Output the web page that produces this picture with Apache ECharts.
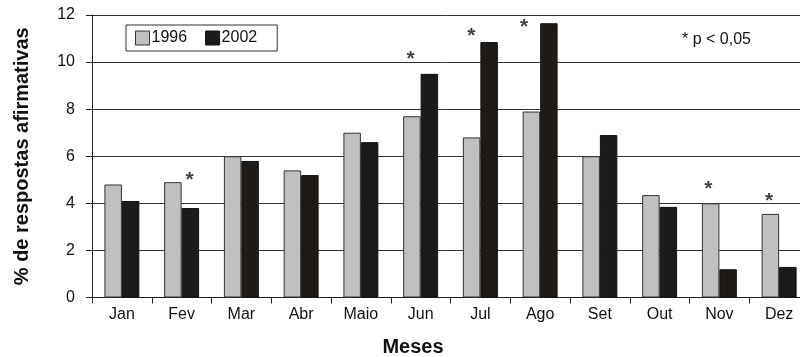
<!DOCTYPE html>
<html><head><meta charset="utf-8">
<script src="https://cdn.jsdelivr.net/npm/echarts@6/dist/echarts.min.js"></script>
<style>html,body{margin:0;padding:0;background:#fff}#c{width:800px;height:357px}</style>
</head><body><div id="c"></div>
<script>
const months = ['Jan','Fev','Mar','Abr','Maio','Jun','Jul','Ago','Set','Out','Nov','Dez'];
const values1996 = [4.8, 4.9, 6.0, 5.4, 7.0, 7.7, 6.8, 7.9, 6.0, 4.35, 4.0, 3.55];
const values2002 = [4.1, 3.8, 5.8, 5.2, 6.6, 9.5, 10.85, 11.65, 6.9, 3.85, 1.2, 1.3];
const starMonths = ['Fev','Jun','Jul','Ago','Nov','Dez'];
const starHeights = [5.15, 10.3, 11.25, 11.65, 4.75, 4.25];
const starShift = [8, -10, -9, -16, -11, -10];
const yTicks = [0, 2, 4, 6, 8, 10, 12];

const chart = echarts.init(document.getElementById('c'), null, {renderer: 'canvas'});
const font = 'Liberation Sans, Arial, sans-serif';
chart.setOption({
  animation: false,
  textStyle: {fontFamily: font},
  grid: {left: 92, top: 15, width: 717, bottom: 59.5, containLabel: false, outerBoundsMode: 'none'},
  legend: {
    left: 126, top: 25, padding: [5, 20, 5, 9], itemGap: 18,
    itemWidth: 14, itemHeight: 14, icon: 'rect',
    borderColor: '#333', borderWidth: 1, backgroundColor: '#fff',
    textStyle: {fontSize: 16, color: '#111', fontFamily: font, padding: [0, 0, 0, -3]},
    data: [{name: '1996', itemStyle: {color: '#c0c0c0', borderColor: '#333', borderWidth: 1}},
           {name: '2002', itemStyle: {color: '#1d1a17', borderColor: '#111', borderWidth: 1}}]
  },
  xAxis: {
    type: 'category', data: months,
    name: 'Meses', nameLocation: 'middle', nameGap: 40,
    nameTextStyle: {fontSize: 20, fontWeight: 'bold', color: '#111', fontFamily: font, padding: [0, 75, 0, 0]},
    axisLine: {lineStyle: {color: '#222', width: 1}},
    axisTick: {show: true, length: 6, lineStyle: {color: '#222'}},
    axisLabel: {fontSize: 16, color: '#111', margin: 9, fontFamily: font}
  },
  yAxis: {
    type: 'value', min: yTicks[0], max: yTicks[yTicks.length - 1], interval: 2,
    name: '% de respostas afirmativas', nameLocation: 'middle', nameGap: 60, nameRotate: 90,
    nameTextStyle: {fontSize: 20, fontWeight: 'bold', color: '#111', fontFamily: font},
    axisLine: {show: true, lineStyle: {color: '#222', width: 1}},
    axisTick: {show: true, length: 6, lineStyle: {color: '#222'}},
    axisLabel: {fontSize: 16, color: '#111', margin: 17, fontFamily: font},
    splitLine: {show: true, lineStyle: {color: '#333', width: 1}}
  },
  series: [
    {name: '1996', type: 'bar', data: values1996, barGap: '0%', barCategoryGap: '41.5%',
     itemStyle: {color: '#c0c0c0', borderColor: '#333', borderWidth: 1}},
    {name: '2002', type: 'bar', data: values2002,
     itemStyle: {color: '#1d1a17', borderColor: '#111', borderWidth: 1}},
    {name: 'sig', type: 'scatter', symbolSize: 1, itemStyle: {color: 'rgba(0,0,0,0)'},
     data: starMonths.map((m, i) => ({value: [m, starHeights[i]],
       label: {show: true, formatter: '*', position: 'inside', offset: [starShift[i], 4],
               fontSize: 21, fontWeight: 'bold', color: '#111', fontFamily: font}})),
     z: 5}
  ],
  graphic: [{type: 'text', left: 682, top: 32,
    style: {text: '* p < 0,05', fontSize: 16, fill: '#111', fontFamily: font}}]
});
</script></body></html>
